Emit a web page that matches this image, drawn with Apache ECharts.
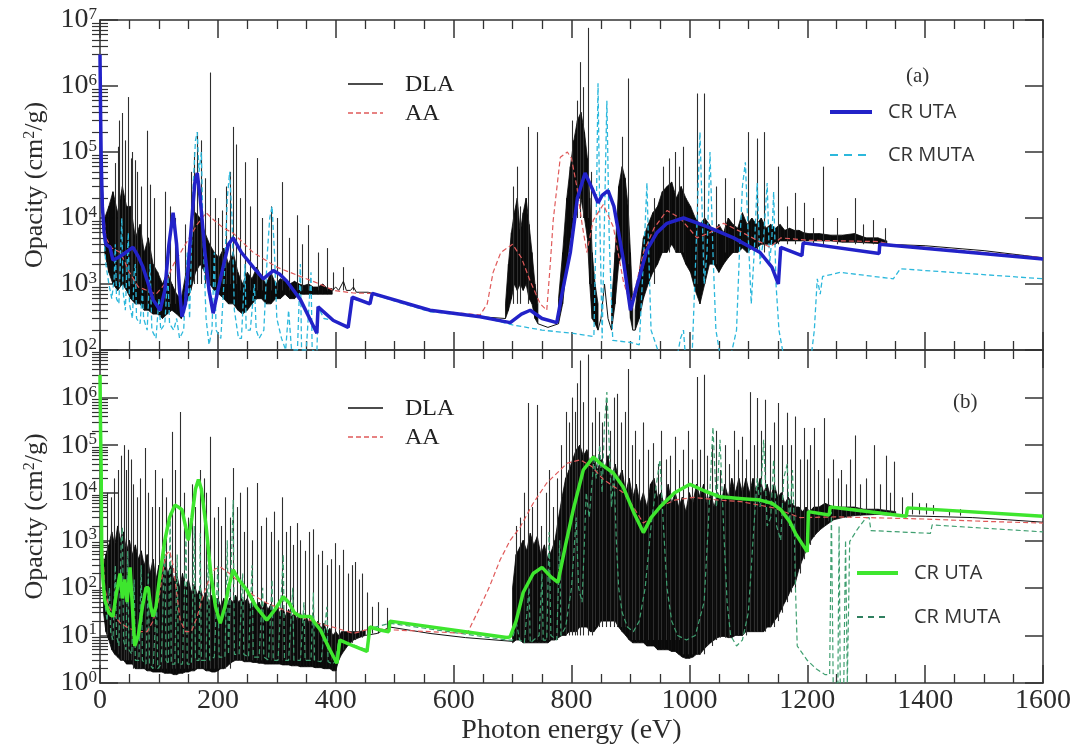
<!DOCTYPE html>
<html><head><meta charset="utf-8">
<script src="https://cdn.jsdelivr.net/npm/echarts@6/dist/echarts.min.js"></script>
<style>html,body{margin:0;padding:0;background:#fff}#c{width:1076px;height:750px}</style>
</head><body><div id="c"></div>
<script>
// ---------------- DATA: panel (a) ----------------
const crUtaA = [[0,3e6],[1,4e5],[2,8e4],[4,1.5e4],[7,6e3],[10,4e3],[17,3.6e3],[22,2.3e3],[30,2.5e3],[39,2.8e3],[48,3.2e3],[56,3.6e3],[65,2.6e3],[73,1.8e3],[82,1e3],[90,5.8e2],[102,4e2],[110,8e2],[117,4e3],[124,1.2e4],[130,4e3],[135,8e2],[139,3.2e2],[145,5e2],[150,2e3],[156,1e4],[161,3.5e4],[165,4.8e4],[170,2e4],[178,3e3],[185,8e2],[192,3.6e2],[200,8e2],[210,2e3],[218,4e3],[226,5e3],[240,3e3],[260,1.8e3],[277,1.2e3],[294,1.6e3],[305,1.4e3],[317,1.1e3],[340,5.8e2],[368,1.8e2],[370,4.5e2],[396,2.8e2],[421,2.2e2],[428,6.3e2],[458,5e2],[462,7.2e2],[560,4e2],[645,3.2e2],[696,2.6e2],[715,3.5e2],[730,4e2],[750,3e2],[775,2.6e2],[785,8e2],[798,3e3],[810,2e4],[823,4.8e4],[835,2.8e4],[845,1.7e4],[852,2.2e4],[862,2.6e4],[872,1.5e4],[880,6e3],[888,2.3e3],[900,4e2],[912,1e3],[928,3.3e3],[945,6e3],[962,8.3e3],[990,1e4],[1030,7.4e3],[1075,5e3],[1120,3e3],[1140,1.8e3],[1151,1e3],[1155,3.6e3],[1191,2.7e3],[1193,4.2e3],[1322,2.9e3],[1323,4e3],[1600,2.4e3]];

const aaA = [[0,3e6],[2,1e5],[5,1.5e4],[10,5e3],[20,3.5e3],[35,3e3],[50,1.5e3],[65,9e2],[80,8e2],[95,7e2],[110,1e3],[125,2e3],[145,4e3],[165,8e3],[180,1.2e4],[195,9e3],[210,7e3],[226,5.9e3],[260,3e3],[300,1.8e3],[340,1.3e3],[373,1e3],[396,8e2],[430,7.3e2],[462,7.2e2],[560,4e2],[645,3.4e2],[657,5e2],[667,1.5e3],[680,3e3],[700,4e3],[715,2.5e3],[730,1.1e3],[747,5e2],[758,4e2],[764,2e3],[769,9.3e3],[781,8.3e4],[793,1e5],[800,8e4],[809,3e4],[818,8e3],[826,3e3],[837,9.3e3],[854,1.6e4],[871,7.3e3],[888,1.1e3],[900,5e2],[910,1e3],[922,3e3],[940,7e3],[962,1.3e4],[984,1e4],[1013,5e3],[1035,6e3],[1058,8.3e3],[1092,5.9e3],[1137,3.6e3],[1155,5e3],[1200,4.6e3],[1320,4.4e3],[1340,4e3],[1600,2.5e3]];

const crMutaA = [[0,3e6],[2,1e5],[5,8e3],[10,2e3],[15,1e3],[20,6e2],[24,1.2e3],[26,4e3],[28,6e2],[32,5e2],[35,3e3],[37,1e4],[39,8e2],[43,4e2],[46,2e3],[48,6e3],[50,5e2],[55,3e2],[58,1.5e3],[60,2e3],[62,3e2],[68,2.5e2],[72,8e2],[74,3e2],[80,2e2],[85,2e3],[88,2e2],[95,1.5e2],[100,6e2],[103,2e2],[110,2.5e2],[115,1.5e3],[118,2.5e2],[125,2e2],[130,3e2],[135,1.5e2],[142,2e2],[148,3e3],[152,3e2],[158,3e4],[162,1.5e5],[165,2e5],[168,5e4],[172,1e5],[175,5e3],[180,3e2],[185,1.2e2],[190,2e2],[194,3e3],[197,2e2],[205,1.5e2],[212,2e3],[216,2e4],[220,5e4],[224,1e4],[228,4e2],[235,1.5e2],[240,1.5e2],[246,2e3],[248,2e2],[255,2e2],[262,1e3],[265,2e2],[270,1.5e2],[278,2e2],[284,3e3],[288,1e4],[292,1.5e4],[296,3e3],[300,3e2],[308,1.5e2],[315,1e2],[320,4e2],[325,1e2],[335,1e2],[340,2e3],[342,1e2],[350,1e2],[358,1.5e3],[360,1e2],[368,9e1],[370,4.5e2],[380,3e2],[396,2.8e2],[421,2.2e2],[428,6e2],[458,5e2],[462,7e2],[560,3.8e2],[645,3.2e2],[700,2.4e2],[750,2e2],[800,1.8e2],[838,1.6e2],[842,1e4],[845,1.1e6],[848,1e4],[852,1.5e2],[856,1e4],[860,6e5],[864,5e3],[870,1.4e2],[900,1.3e2],[915,1.2e2],[920,1e3],[925,8e3],[928,3.4e4],[931,3e3],[935,2e2],[950,8e1],[965,6e1],[975,5e1],[985,1.5e2],[990,2e2],[995,5e1],[1005,1e2],[1012,5e3],[1018,2e5],[1022,1e4],[1025,1e3],[1030,3e3],[1035,1e5],[1040,3e3],[1045,2e2],[1055,6e1],[1065,5e1],[1080,2e2],[1085,3e3],[1090,3e4],[1095,7e4],[1100,5e3],[1105,5e2],[1110,3e3],[1115,3.4e4],[1120,2e3],[1126,5e3],[1132,3.4e4],[1136,2e3],[1140,5e3],[1143,2.5e4],[1147,1e3],[1152,2e2],[1160,8e1],[1175,6e1],[1195,5e1],[1205,6e1],[1212,2e2],[1217,1.2e3],[1222,7e2],[1226,1.3e3],[1256,1.5e3],[1346,1.2e3],[1358,1.7e3],[1600,1.2e3]];

// DLA: sparse line pieces, dense "forest" envelopes [E, low, high], and single lines [E, base, peak]
const dlaLineA = [
  [[0,3e6],[1,6e5],[2,1.5e5],[4,3e4],[6,1.2e4],[8,6e3]],
  [[394,8e2],[400,9e2],[405,8e2],[413,1.1e3],[418,8e2],[425,8e2],[430,9e2],[435,7.5e2],[455,7.5e2],[462,7.2e2],[560,4e2],[645,3.2e2],[688,3e2]],
  [[743,2.5e2],[760,2.2e2],[778,2.5e2]],
  [[845,2e2],[850,3e2],[856,1e3],[862,3e2],[868,2e2]],
  [[904,2e2],[908,2e2]],
  [[1335,4e3],[1400,3.8e3],[1500,3.2e3],[1600,2.5e3]]
];
const dlaMassA = [
  [[8,3e3,1e4],[15,1.5e3,1.5e4],[22,1e3,2.5e4],[30,8e2,1.2e4],[38,1e3,3e4],[45,8e2,1.5e4],[52,6e2,1.5e4],[60,5e2,5e3],[68,5e2,8e3],[75,4e2,3e3],[82,4e2,5e3],[90,3.5e2,2e3],[98,3.5e2,1.5e3],[106,3e2,1e3],[114,3.5e2,1.5e3],[122,4e2,1e3],[130,3.5e2,7e2],[138,3e2,6e2],[146,5e2,1.5e3],[154,8e2,3e3],[162,1.5e3,1.2e4],[170,2e3,1e4],[178,1.5e3,6e3],[186,1e3,4e3],[194,8e2,3e3],[202,7e2,2.5e3],[210,6e2,3.5e3],[218,5e2,2e3],[226,5e2,3e3],[234,4e2,1.5e3],[242,3.5e2,1e3],[250,4e2,1.5e3],[258,5e2,1.2e3],[266,6e2,1.8e3],[274,6e2,1.3e3],[282,5e2,1e3],[290,5e2,1.5e3],[298,6e2,1e3],[306,6e2,1.2e3],[314,7e2,1.1e3],[322,6e2,1e3],[330,6e2,1.1e3],[338,7e2,1e3],[346,7e2,9.5e2],[354,7e2,1e3],[362,7e2,9e2],[370,7e2,9e2],[378,7e2,1e3],[386,7e2,8.5e2],[394,7e2,8.5e2]],
  [[688,3e2,5e2],[693,4e2,2e3],[698,6e2,6e3],[703,1e3,1.2e4],[708,8e2,2e4],[713,1e3,6e3],[718,8e2,1.2e4],[723,1e3,2e4],[728,6e2,8e3],[733,5e2,3e3],[738,3e2,1e3],[743,2.5e2,5e2]],
  [[778,2.5e2,6e2],[785,5e2,3e3],[792,2e3,2e4],[798,5e3,6e4],[804,1e4,1.5e5],[810,2e4,3e5],[816,2e4,4e5],[822,1e4,2e5],[827,5e3,8e4],[831,1e3,2e4],[835,3e2,3e3],[840,2.5e2,1e3],[845,2e2,5e2]],
  [[868,2e2,5e2],[874,5e2,3e3],[880,2e3,3e4],[886,3e3,6e4],[891,2e3,4e4],[896,1e3,1.5e4],[900,3e2,3e3],[904,2e2,5e2]],
  [[908,2e2,4e2],[915,3e2,1.5e3],[922,6e2,5e3],[930,1e3,8e3],[938,1.5e3,1.2e4],[946,2e3,1.5e4],[954,3e3,2.5e4],[962,3e3,3e4],[970,4e3,3.5e4],[978,3e3,2e4],[986,3e3,3e4],[994,2e3,2e4],[1002,1.5e3,1.5e4],[1010,8e2,1e4],[1018,5e2,8e3],[1026,1e3,1e4],[1034,2e3,8e3],[1042,2e3,6e3],[1050,1.5e3,8e3],[1058,2e3,6e3],[1066,2.5e3,1e4],[1074,3e3,8e3],[1082,3e3,7e3],[1090,3.5e3,1.2e4],[1098,3e3,8e3],[1106,3.5e3,1e4],[1114,3.5e3,8e3],[1122,4e3,1e4],[1130,4e3,7e3],[1138,4e3,8e3],[1146,4e3,7e3],[1154,4.5e3,8e3],[1162,4.5e3,6.5e3],[1170,4.5e3,7e3],[1178,4.5e3,6.5e3],[1186,4.5e3,6.5e3],[1194,4.5e3,6e3],[1202,4.5e3,5.8e3],[1220,4.5e3,5.8e3],[1240,4.5e3,5.5e3],[1260,4.3e3,5.5e3],[1280,4.3e3,5.8e3],[1300,4.2e3,5e3],[1320,4.1e3,5e3],[1335,4e3,4.5e3]]
];
const dlaSpikesA = [[25,1e3,6.8e4],[30,1e3,1.2e5],[33,1e3,3e5],[37,1e3,3.9e5],[42,1e3,1.5e5],[48,1e3,6.8e5],[52,1e3,8e4],[55,1e3,1e5],[59,1e3,7.5e4],[63,1e3,5e4],[70,8e2,3e4],[80,5e2,2.1e5],[85,5e2,3.2e4],[92,5e2,2e4],[110,5e2,2.5e4],[118,5e2,1.5e4],[128,5e2,1e4],[145,5e2,8e3],[155,1e3,5e4],[160,1e3,1e5],[165,1e3,2e5],[172,1e3,1.5e5],[178,1e3,4e4],[187,1e3,1.6e6],[195,1e3,2e4],[200,1e3,1e4],[207,1e3,1.3e4],[214,1e3,3e4],[220,1e3,5e4],[226,1e3,2.4e5],[230,1e3,1.3e5],[238,8e2,2e4],[246,8e2,7e4],[255,8e2,1.5e4],[266,8e2,8.1e4],[275,8e2,1e4],[290,8e2,1.5e4],[300,8e2,1e4],[309,8e2,3.5e4],[320,8e2,5e3],[334,8e2,1.1e4],[343,8e2,4e3],[353,8e2,7.8e3],[370,8e2,3e3],[385,8e2,3.5e3],[396,8e2,1.5e3],[413,8e2,1.8e3],[430,8e2,1.2e3],[700,5e2,3e4],[707,5e2,6e4],[713,5e2,1.5e4],[727,5e2,2.4e5],[741,5e2,2e5],[800,1e4,3e5],[809,1e4,6e5],[815,1e4,2.3e6],[820,1e4,9.6e5],[828,1e4,7.6e6],[833,1e3,5e4],[886,3e3,1.7e5],[896,2e3,1.3e6],[940,1e3,2e4],[955,3e3,6e4],[965,3e3,8e4],[975,3e3,1e5],[983,3e3,6e4],[990,3e3,1.2e5],[1013,1e3,7.7e5],[1024,1e3,7.7e5],[1045,2e3,3e4],[1060,3e3,4e4],[1075,3e3,2e4],[1100,3e3,2e5],[1115,3e3,1.6e5],[1126,3e3,2e5],[1151,4e3,6e4],[1165,4e3,1.5e4],[1180,4e3,2.4e4],[1194,4e3,1.7e4],[1210,4e3,1e4],[1227,4e3,6e4],[1250,4e3,1e4],[1281,4e3,2e4],[1295,4e3,8e3],[1312,4e3,9.3e3],[1332,4e3,7e3]];

// ---------------- DATA: panel (b) ----------------
const crUtaB = [[0,3e6],[1,2e5],[2,2.6e4],[3,4.5e2],[5,1.5e2],[8,56],[15,30],[22,25],[28,80],[34,2e2],[38,60],[42,1.5e2],[46,50],[51,2.7e2],[55,40],[59,6],[65,10],[72,40],[78,1e2],[82,1e2],[86,40],[90,25],[95,40],[102,2e2],[110,1e3],[118,3e3],[127,5.5e3],[133,5e3],[139,4.4e3],[145,2e3],[150,1e3],[156,3e3],[162,1.2e4],[167,1.9e4],[172,1.2e4],[180,2e3],[188,2e2],[196,40],[204,18],[212,40],[218,1e2],[226,2.4e2],[235,1.5e2],[249,91],[265,40],[283,21],[297,35],[311,65],[320,50],[330,30],[340,25],[357,25],[365,18],[374,13],[390,5],[402,2.6],[407,8],[430,6],[453,4.6],[458,15],[475,13],[490,12],[492,20],[690,9],[696,9.4],[706,20],[718,80],[735,2e2],[750,2.7e2],[765,1.7e2],[777,1.3e2],[790,8e2],[803,4.4e3],[820,3e4],[837,5.6e4],[850,4e4],[871,2.6e4],[888,1.3e4],[905,4e3],[922,1.45e3],[935,3e3],[950,5e3],[975,1e4],[1001,1.5e4],[1025,1.1e4],[1052,8.2e3],[1090,7.5e3],[1120,7e3],[1140,6e3],[1155,4.4e3],[1170,2.5e3],[1180,1.4e3],[1200,5.7e2],[1202,4e3],[1237,3.4e3],[1239,5e3],[1368,3.2e3],[1370,4.8e3],[1600,3.2e3]];

const aaB = [[0,3e6],[2,1e5],[4,1e3],[8,1e2],[15,40],[25,25],[35,18],[50,14],[65,12],[80,12],[90,20],[100,60],[106,2e2],[112,5e2],[118,6e2],[124,3e2],[130,80],[136,21],[145,12],[155,12],[165,25],[175,70],[185,1.5e2],[195,2.5e2],[205,2.7e2],[220,2e2],[240,1.2e2],[260,70],[283,48],[310,35],[340,25],[370,18],[395,15],[430,11],[460,14],[500,13],[560,12],[623,11],[645,40],[660,1e2],[679,3.9e2],[696,1e3],[713,1.9e3],[735,6e3],[758,1.6e4],[793,4.2e4],[815,4.9e4],[835,3.5e4],[854,1.9e4],[888,1e4],[905,5e3],[922,2.3e3],[935,3e3],[950,5e3],[975,7e3],[1007,8e3],[1050,7e3],[1087,6.5e3],[1143,4.8e3],[1188,3e3],[1250,3.1e3],[1300,3e3],[1400,2.8e3],[1500,2.5e3],[1600,2.3e3]];

const crMutaB = [[0,3e6],[2,1e5],[4,1e3],[8,50],[12,20],[16,1e2],[18,12],[22,8],[26,3e2],[28,10],[32,6],[36,1e3],[38,1.9e3],[40,8],[44,5],[47,6e2],[49,5],[54,4],[58,1.5e2],[60,3],[66,3],[70,3e2],[72,3],[78,2.5],[82,2e2],[84,2.5],[90,2],[96,50],[98,2],[104,2.5],[110,1e3],[112,3],[116,2.5],[119,4e3],[121,2.5],[127,2.5],[131,5e2],[133,2.5],[140,2.5],[146,1.5e3],[148,2.5],[155,2.5],[160,2e3],[162,3],[168,3],[170,1.4e3],[172,3],[180,3],[184,8e2],[186,3],[194,3.5],[200,3e2],[202,3.5],[212,3.5],[216,1e3],[218,4],[226,7e3],[228,4],[236,4],[242,2e2],[244,4],[252,3.5],[258,3e2],[260,3.5],[270,3.5],[276,1e2],[278,3.5],[286,3],[292,1.5e2],[294,3],[302,3],[311,5e2],[313,3],[320,3],[327,1e2],[329,3],[340,3],[346,50],[348,3],[358,3],[362,80],[364,3],[375,2.8],[385,40],[387,2.8],[395,2.5],[400,3],[405,8],[453,5],[458,14],[492,18],[690,8],[700,8],[706,20],[712,8],[720,7],[728,1e2],[730,7],[745,10],[750,2e2],[752,8],[758,8],[762,1.5e3],[765,10],[775,8],[780,1e3],[782,10],[790,15],[800,1e2],[808,3e3],[812,1e2],[818,50],[825,1e4],[830,3e3],[838,5e4],[842,2e4],[848,1e5],[852,1e4],[856,3e5],[860,1.3e6],[864,1e5],[868,5e3],[872,3e4],[876,1e3],[880,1e2],[886,30],[895,15],[905,12],[915,20],[925,1e2],[935,2e3],[942,1e4],[950,4.9e4],[956,2e3],[962,1e2],[970,20],[980,10],[995,8],[1010,10],[1025,50],[1032,2e3],[1040,2.4e5],[1046,5e3],[1052,1.3e5],[1058,2e3],[1064,50],[1070,10],[1080,6],[1090,8],[1100,30],[1108,1e3],[1115,2e4],[1120,5e3],[1126,1.3e5],[1132,2e3],[1138,3e3],[1143,5e4],[1148,2e3],[1155,1e3],[1160,2e4],[1166,4e4],[1170,2e3],[1175,3e4],[1178,2e3],[1180,1e2],[1183,6],[1200,3],[1215,2],[1230,1.5],[1238,1.5],[1241,4e3],[1244,1],[1252,1],[1254,2e3],[1256,1],[1262,1],[1265,1e3],[1268,1],[1272,9.4e2],[1285,1.7e3],[1300,3e3],[1305,3e3],[1308,1.6e3],[1409,1.4e3],[1412,2.1e3],[1600,1.5e3]];

const dlaLineB = [
  [[0,3e6],[1,3e5],[2,3e4],[3,2e3],[4,3e2],[6,60]],
  [[450,10],[470,11],[492,15],[560,11],[620,9],[700,7.5]],
  [[1350,3.3e3],[1400,3.2e3],[1480,3e3],[1540,2.7e3],[1600,2.4e3]]
];
const dlaMassB = [
  [[6,30,3e2],[10,12,5e2],[15,8,8e2],[20,5,1.5e3],[25,4,8e2],[30,3.5,2e3],[35,3,1e3],[40,3,1.5e3],[45,2.5,6e2],[50,2.5,1e3],[55,2.5,5e2],[60,2,8e2],[65,2,4e2],[70,2,6e2],[75,2,3e2],[80,1.8,5e2],[85,1.8,2e2],[90,1.7,4e2],[95,1.7,1.5e2],[100,1.7,3e2],[105,1.7,2e2],[110,1.6,4e2],[115,1.6,2e2],[120,1.6,3e2],[125,1.5,1.5e2],[130,1.5,2e2],[135,1.6,1e2],[140,1.6,2e2],[145,1.7,1e2],[150,1.7,1.5e2],[155,1.8,80],[160,1.8,1.2e2],[165,2,70],[170,2,1e2],[175,2,60],[180,1.8,80],[185,1.8,50],[190,1.7,70],[195,1.7,40],[200,1.8,60],[205,2,40],[210,2,60],[215,2.2,40],[220,2.5,60],[225,2.8,50],[230,3,70],[235,3,50],[240,3,60],[245,2.8,50],[250,2.8,60],[255,2.8,40],[260,2.7,60],[265,2.7,40],[270,2.6,50],[275,2.6,35],[280,2.5,50],[285,2.5,35],[290,2.5,45],[295,2.5,30],[300,2.5,40],[305,2.5,30],[310,2.4,40],[315,2.4,25],[320,2.4,35],[325,2.3,25],[330,2.3,30],[335,2.3,20],[340,2.2,30],[345,2.2,20],[350,2.2,25],[355,2.2,18],[360,2.2,22],[365,2.1,15],[370,2.1,20],[375,2.1,14],[380,2,18],[385,2,12],[390,2,14],[395,1.8,10],[400,1.8,12],[405,3,10],[410,4,12],[420,6,12],[430,8,12],[440,9,12],[450,10,13]],
  [[700,7,1e2],[706,8,5e2],[712,8,7e2],[718,7,1e3],[724,7,6e2],[730,7,1.4e3],[736,7,8e2],[742,7,1.2e3],[748,7,5e2],[754,7,8e2],[760,7,4e2],[766,8,6e2],[772,8,1e3],[778,9,3e3],[784,10,8e3],[790,10,2e4],[796,12,3e4],[802,12,5e4],[808,12,8e4],[814,15,1e5],[820,15,6e4],[826,15,8e4],[832,12,4e4],[838,12,6e4],[844,15,3e4],[850,20,5e4],[856,20,3e4],[862,20,6e4],[868,20,2e4],[874,20,4e4],[880,15,2e4],[886,12,3e4],[892,10,1e4],[898,8,2e4],[904,7,8e3],[910,7,1.5e4],[916,7,6e3],[922,7,1e4],[928,6,5e3],[934,6,1.5e4],[940,6,2e4],[946,5,8e3],[952,5,1e4],[958,5,5e3],[964,5,1.5e4],[970,4.6,6e3],[976,4.6,1e4],[982,4,5e3],[988,3.5,8e3],[994,3.3,4e3],[1000,3.3,1e4],[1006,3.5,6e3],[1012,4,1.5e4],[1018,4,8e3],[1024,5,1.5e4],[1030,6,6e3],[1036,7,1e4],[1042,8,5e3],[1048,9,1e4],[1054,9.5,6e3],[1060,9.5,1.5e4],[1066,9,8e3],[1072,9,2e4],[1078,10,1e4],[1084,10,2e4],[1090,10,1e4],[1096,12,2e4],[1102,12,1e4],[1108,12,2e4],[1114,12,1e4],[1120,12,2e4],[1126,12,1e4],[1132,15,1.5e4],[1138,15,8e3],[1144,20,1.5e4],[1150,25,8e3],[1156,35,1e4],[1162,50,6e3],[1168,70,8e3],[1174,1e2,6e3],[1180,1.3e2,5e3],[1186,2.5e2,5e3],[1192,4e2,4e3],[1198,6e2,5e3],[1204,9e2,4e3],[1211,1.2e3,5e3],[1220,1.6e3,5e3],[1230,2e3,6e3],[1245,2.7e3,5e3],[1260,3e3,5e3],[1280,3.3e3,5e3],[1296,3.4e3,4.5e3],[1320,3.5e3,4.5e3],[1350,3.3e3,4e3]]
];
const dlaSpikesB = [[12,10,1e4],[18,8,8e3],[24,5,2e4],[30,4,3e4],[36,3,6e4],[40,3,1e5],[44,3,3e4],[48,3,8e4],[52,3,5e4],[56,2,1.5e4],[62,2,8e3],[68,2,2e4],[76,2,8.7e4],[82,2,1e4],[88,2,5e3],[94,2,3e4],[100,2,5e3],[106,2,2e4],[112,2,8e3],[122,2,1.9e5],[128,2,3e4],[136,2,5e5],[142,2,1e4],[150,2,3e3],[156,2,1.5e4],[162,2,5e3],[170,2,3e4],[176,2,2e4],[180,2,1e4],[187,2,1.5e5],[193,2,3e3],[200,2,5e3],[206,2,2e3],[212,2,8e3],[220,2,3e3],[226,3,3.3e4],[232,3,5e3],[238,3,1e4],[244,3,1.5e3],[250,3,1.3e4],[258,3,1e3],[266,3,1.6e4],[274,3,2e3],[282,3,3e3],[290,3,1.5e3],[296,3,4e3],[302,3,1e3],[309,3,8e3],[316,3,1.5e3],[322,3,2e3],[328,3,8e2],[334,3,2.3e3],[340,3,1e3],[348,3,6e2],[355,3,1.5e3],[362,3,1.7e3],[370,3,5e2],[377,3,6e2],[385,3,3e2],[392,3,4e2],[399,3,8.7e2],[406,4,3e2],[413,5,6.3e2],[420,6,2e2],[427,7,3e2],[433,8,3.5e2],[440,9,1.5e2],[444,9,2e2],[453,10,80],[462,11,40],[472,11,50],[487,12,38],[706,8,2e3],[712,8,3e3],[720,8,1e4],[727,8,7.7e5],[733,8,5e3],[741,8,7e5],[748,8,2e3],[756,8,1e4],[762,8,3e4],[768,8,5e3],[775,8,2e4],[782,10,1e5],[790,10,5e5],[796,10,3e5],[800,10,1e6],[806,10,5e5],[810,10,2e6],[815,10,6e6],[820,10,8e5],[828,10,8e6],[834,10,3e5],[840,15,1e6],[846,15,5e5],[852,15,3e5],[858,15,8e5],[866,15,2e5],[872,15,1e6],[877,15,1.2e6],[884,15,3e5],[890,15,5e5],[896,15,4e6],[902,8,1e5],[908,8,2e5],[915,8,5e4],[922,8,3e5],[930,8,8e4],[939,8,1.1e5],[946,8,4e4],[952,8,2e5],[960,8,5e4],[967,8,6e4],[975,8,1.5e5],[982,8,3e4],[990,4,8e4],[997,4,2e5],[1005,4,5e4],[1013,4,2.7e6],[1018,4,8e4],[1024,4,3e6],[1030,6,6e4],[1038,6,1e5],[1045,8,2e5],[1052,9,3e4],[1060,9,1e5],[1068,9,4e4],[1076,10,2e5],[1083,10,8e4],[1090,10,1.5e5],[1096,10,5e4],[1103,12,1.3e6],[1109,12,1e5],[1115,12,9.8e5],[1122,12,2e5],[1129,12,9e5],[1136,15,1e5],[1144,15,3e5],[1151,20,7.7e5],[1158,30,1e5],[1166,50,4.8e5],[1172,80,1e5],[1180,1e2,4e5],[1187,2e2,5e4],[1194,4e2,2.3e5],[1200,6e2,5e4],[1205,8e2,1e5],[1211,1.2e3,2.3e5],[1218,1.5e3,3e4],[1228,2e3,3.7e5],[1236,2.5e3,2e4],[1244,2.7e3,5e4],[1252,3e3,2e4],[1258,3e3,3e4],[1266,3e3,1.5e4],[1272,3e3,5e4],[1281,3.3e3,1.6e5],[1290,3.3e3,1.5e4],[1300,3.4e3,2e4],[1313,3.4e3,1e5],[1323,3.5e3,1.5e4],[1333,3.5e3,6e4],[1340,3.5e3,1e4],[1347,3.5e3,4.5e4],[1360,3.5e3,8e3],[1378,3.5e3,1e4],[1390,3.5e3,6e3],[1401,3.5e3,6e3],[1414,3.5e3,5.5e3],[1440,3.3e3,4.5e3],[1460,3.3e3,4.5e3]];

// ---------------- tick values ----------------
const majorTicksA = [1e2,1e3,1e4,1e5,1e6,1e7];
const majorTicksB = [1,1e1,1e2,1e3,1e4,1e5,1e6,1e7];
const labelTicksA = [1e2,1e3,1e4,1e5,1e6,1e7];
const labelTicksB = [1,1e1,1e2,1e3,1e4,1e5,1e6];
const minorMultipliers = [2,3,4,5,6,7,8,9];

// ---------------- build ----------------
function minorsFor(d0, d1){ const r=[]; for(let d=d0; d<d1; d++) for(const k of minorMultipliers) r.push(k*Math.pow(10,d)); return r; }
const minorTicksA = minorsFor(2,7);
const minorTicksB = minorsFor(0,7);

const SERIF = 'Liberation Serif';
const SANS = 'Open Sans';
const AXC = '#333';

const grids = [
  {left:100, top:20, width:943, height:330},
  {left:100, top:350, width:943, height:333}
];

function xAx(gi, pos, showLabel){
  return {
    type:'value', gridIndex:gi, position:pos, min:0, max:1600, interval:200,
    axisLine:{show:true, onZero:false, lineStyle:{color:AXC, width:1.5}},
    axisTick:{show:true, inside:true, length:18, lineStyle:{color:AXC, width:1.5}},
    minorTick:{show:true, splitNumber:4, length:9, lineStyle:{color:AXC, width:1.3}},
    splitLine:{show:false}, minorSplitLine:{show:false},
    axisLabel:{show:showLabel, fontFamily:SERIF, fontSize:28, color:'#2b2b2b', margin:4, formatter: v => String(v)},
    name: showLabel ? 'Photon energy (eV)' : '', nameLocation:'middle', nameGap:34,
    nameTextStyle:{fontFamily:SERIF, fontSize:28, color:'#2b2b2b'}
  };
}
function supFmt(v){ const n = Math.round(Math.log10(v)); return '{b|10}{s|' + n + '}'; }
const supRich = { b:{fontFamily:SERIF, fontSize:28, color:'#2b2b2b'}, s:{fontFamily:SERIF, fontSize:17, color:'#2b2b2b', verticalAlign:'top', padding:[0,0,10,0]} };

function yMajor(gi, pos, min, max, ticks, labels, withName){
  return {
    type:'log', logBase:10, gridIndex:gi, position:pos, min:min, max:max,
    axisLine:{show:true, onZero:false, lineStyle:{color:AXC, width:1.5}},
    axisTick:{show:true, inside:true, length:18, customValues:ticks, lineStyle:{color:AXC, width:1.5}},
    minorTick:{show:false}, splitLine:{show:false},
    axisLabel:{show: pos==='left', customValues:labels, formatter:supFmt, rich:supRich, margin:3},
    name: withName ? 'Opacity (cm{s|2}/g)' : '', nameLocation:'middle', nameGap:52, nameRotate:90,
    nameTextStyle:{fontFamily:SERIF, fontSize:26, color:'#2b2b2b',
      rich:{s:{fontFamily:SERIF, fontSize:16, color:'#2b2b2b', verticalAlign:'top', padding:[0,0,8,0]}}}
  };
}
function yMinor(gi, pos, min, max, ticks){
  return {
    type:'log', logBase:10, gridIndex:gi, position:pos, min:min, max:max,
    axisLine:{show:false},
    axisTick:{show:true, inside:true, length:8, customValues:ticks, lineStyle:{color:AXC, width:1.2}},
    minorTick:{show:false}, splitLine:{show:false}, axisLabel:{show:false}
  };
}

const xAxes = [xAx(0,'bottom',false), xAx(0,'top',false), xAx(1,'bottom',true), xAx(1,'top',false)];
const yAxes = [
  yMajor(0,'left',1e2,1e7,majorTicksA,labelTicksA,true), yMinor(0,'left',1e2,1e7,minorTicksA),
  yMajor(0,'right',1e2,1e7,majorTicksA,labelTicksA,false), yMinor(0,'right',1e2,1e7,minorTicksA),
  yMajor(1,'left',1,1e7,majorTicksB,labelTicksB,true), yMinor(1,'left',1,1e7,minorTicksB),
  yMajor(1,'right',1,1e7,majorTicksB,labelTicksB,false), yMinor(1,'right',1,1e7,minorTicksB)
];

function massSeries(segs, xi, yi){
  const flat = [];
  segs.forEach((s, si) => s.forEach(p => flat.push([p[0], p[1], p[2], si])));
  return {
    type:'custom', xAxisIndex:xi, yAxisIndex:yi, clip:true, silent:true, z:1,
    data: flat, encode:{x:0, y:[1,2]},
    renderItem: function(params, api){
      const i = params.dataIndex;
      if (i + 1 >= flat.length || flat[i+1][3] !== flat[i][3]) return null;
      const p = flat[i], q = flat[i+1];
      const pts = [api.coord([p[0], p[2]]), api.coord([q[0], q[2]]), api.coord([q[0], q[1]]), api.coord([p[0], p[1]])];
      return {type:'polygon', shape:{points:pts}, style:{fill:'#0a0a0a', stroke:'#0a0a0a', lineWidth:0.8}};
    }
  };
}
function spikeSeries(data, xi, yi){
  return {
    type:'custom', xAxisIndex:xi, yAxisIndex:yi, clip:true, silent:true, z:1,
    data: data, encode:{x:0, y:[1,2]},
    renderItem: function(params, api){
      const a = api.coord([api.value(0), api.value(1)]);
      const b = api.coord([api.value(0), api.value(2)]);
      const x = Math.round(a[0]) + 0.5;
      return {type:'line', shape:{x1:x, y1:a[1], x2:x, y2:b[1]}, style:{stroke:'#2e2e2e', lineWidth:1.1}};
    }
  };
}
function lineSeries(data, xi, yi, color, width, dashed, z){
  return {
    type:'line', xAxisIndex:xi, yAxisIndex:yi, data:data, showSymbol:false, symbol:'none',
    silent:true, z:z, clip:true, animation:false,
    lineStyle:{color:color, width:width, type: dashed ? [5,3] : 'solid'}
  };
}

const C_BLUE = '#2222c8', C_CYAN = '#2cb8dc', C_RED = '#e05a5a', C_GREEN = '#3ee62e', C_TEAL = '#3f9f70';

const series = [];
// panel a
series.push(massSeries(dlaMassA, 0, 0));
series.push(spikeSeries(dlaSpikesA, 0, 0));
dlaLineA.forEach(s => series.push(lineSeries(s, 0, 0, '#111', 1, false, 2)));
series.push(lineSeries(crMutaA, 0, 0, C_CYAN, 1.3, true, 3));
series.push(lineSeries(aaA, 0, 0, C_RED, 1.2, true, 4));
series.push(lineSeries(crUtaA, 0, 0, C_BLUE, 3.5, false, 5));
// panel b
series.push(massSeries(dlaMassB, 2, 4));
series.push(spikeSeries(dlaSpikesB, 2, 4));
dlaLineB.forEach(s => series.push(lineSeries(s, 2, 4, '#111', 1, false, 2)));
series.push(lineSeries(crMutaB, 2, 4, C_TEAL, 1.2, true, 3));
series.push(lineSeries(aaB, 2, 4, C_RED, 1.2, true, 4));
series.push(lineSeries(crUtaB, 2, 4, C_GREEN, 3.5, false, 5));

function legLine(x1, x2, y, color, w, dash){
  return {type:'line', z:100, shape:{x1:x1, y1:y, x2:x2, y2:y}, style:{stroke:color, lineWidth:w, lineDash: dash || null}};
}
function legText(x, y, text, font, size, color){
  return {type:'text', z:100, x:x, y:y, style:{text:text, fontFamily:font, fontSize:size, fill:color, textVerticalAlign:'middle', textAlign:'left'}};
}
const graphic = [
  legLine(348,383,84,'#111',1.5), legText(405,85,'DLA',SERIF,24,'#222'),
  legLine(348,383,113,C_RED,1.5,[5,3]), legText(405,114,'AA',SERIF,24,'#222'),
  legLine(830,872,112,C_BLUE,4), legText(888,112,'CR UTA',SANS,20,'#333'),
  legLine(830,866,155,C_CYAN,2,[8,6]), legText(888,155,'CR MUTA',SANS,20,'#333'),
  legText(906,76,'(a)',SERIF,21,'#333'),
  legLine(348,383,408,'#111',1.5), legText(405,409,'DLA',SERIF,24,'#222'),
  legLine(348,383,437,C_RED,1.5,[5,3]), legText(405,438,'AA',SERIF,24,'#222'),
  legLine(857,898,573,C_GREEN,4), legText(914,573,'CR UTA',SANS,20,'#333'),
  legLine(857,890,617,'#2f7f5f',2,[6,5]), legText(914,617,'CR MUTA',SANS,20,'#333'),
  legText(953,402,'(b)',SERIF,21,'#333')
];

const chart = echarts.init(document.getElementById('c'), null, {renderer:'canvas'});
chart.setOption({
  animation:false, backgroundColor:'#fff',
  grid: grids, xAxis: xAxes, yAxis: yAxes, series: series, graphic: graphic
});
</script></body></html>
